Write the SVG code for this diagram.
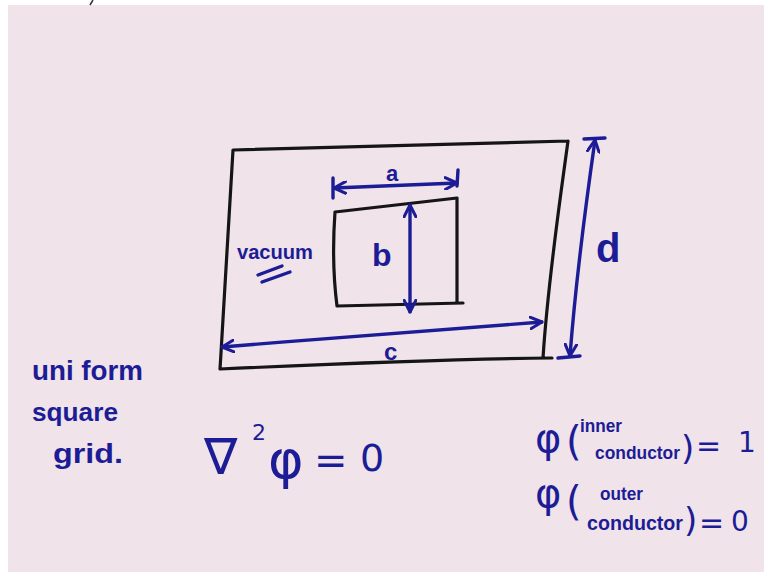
<svg xmlns="http://www.w3.org/2000/svg" width="764" height="577" viewBox="0 0 764 577">
<style>
.blk{fill:none;stroke:#151515;stroke-width:3.2;stroke-linecap:round;stroke-linejoin:round}
.ink{fill:none;stroke:#1c1c96;stroke-width:3.4;stroke-linecap:round;stroke-linejoin:round}
.hw{fill:#1c1c96;font-family:"Liberation Sans",Arial,sans-serif;font-weight:bold}
.mt{fill:#1c1c96;font-family:"DejaVu Sans",sans-serif}
</style>
<defs>
<marker id="ah" viewBox="0 0 12 12" refX="11" refY="6" markerWidth="14" markerHeight="14" markerUnits="userSpaceOnUse" orient="auto-start-reverse">
<path d="M1,1 L11,6 L1,11" fill="none" stroke="#1c1c96" stroke-width="2.6" stroke-linecap="round" stroke-linejoin="round"/>
</marker>
</defs>
<rect x="0" y="0" width="764" height="577" fill="#ffffff"/>
<rect x="8" y="5" width="756" height="567" fill="#f0e3e9"/>
<path d="M93,0 L90,5" stroke="#333" stroke-width="1.5" fill="none"/>

<g id="outer-conductor">
<path class="blk" d="M233,150 L568,141 M568,141 C560,200 548,280 543,358 M220,369 C225,290 229,210 233,150 M220,369 C330,364 450,359 552,358"/>
</g>
<g id="inner-conductor">
<path class="blk" d="M335,212 L457,198 L457,303 M335,212 C333,240 333,275 337,306 L463,303"/>
</g>

<g id="connectors">
<g id="dim-a">
<path class="ink" d="M334,188 L457,183" marker-start="url(#ah)" marker-end="url(#ah)"/>
<path class="ink" d="M333,178 L333,198 M458,170 L457,186"/>
</g>
<g id="dim-b">
<path class="ink" d="M410,205 L410,312" marker-start="url(#ah)" marker-end="url(#ah)"/>
</g>
<g id="dim-c">
<path class="ink" d="M222,347 C330,338 440,330 542,322" marker-start="url(#ah)" marker-end="url(#ah)"/>
</g>
<g id="dim-d">
<path class="ink" d="M595,140 C585,210 575,290 570,356" marker-start="url(#ah)" marker-end="url(#ah)"/>
<path class="ink" d="M584,139 L605,138 M558,358 L580,356"/>
</g>
</g>

<g id="labels">
<text class="hw" x="386" y="181" font-size="22">a</text>
<text class="hw" x="372" y="266" font-size="32">b</text>
<text class="hw" x="384" y="360" font-size="24">c</text>
<text class="hw" x="596" y="262" font-size="40">d</text>
<text class="hw" x="237" y="259" font-size="20" textLength="76" lengthAdjust="spacingAndGlyphs">vacuum</text>
<path class="ink" d="M258,275 L282,266 M262,282 L290,272" stroke-width="3"/>
</g>

<g id="notes-left">
<text class="hw" x="32" y="380" font-size="28" textLength="111" lengthAdjust="spacingAndGlyphs">uni form</text>
<text class="hw" x="32" y="421" font-size="26" textLength="86" lengthAdjust="spacingAndGlyphs">square</text>
<text class="hw" x="53" y="463" font-size="28" textLength="70" lengthAdjust="spacingAndGlyphs">grid.</text>
</g>

<g id="equation">
<text class="mt" x="204" y="474" font-size="50">∇</text>
<text class="mt" x="252" y="440" font-size="22">2</text>
<text class="mt" x="268" y="478" font-size="54">φ</text>
<text class="mt" x="314" y="474" font-size="40">=</text>
<text class="mt" x="360" y="471" font-size="38">0</text>
</g>

<g id="boundary-inner">
<text class="mt" x="535" y="452" font-size="40">φ</text>
<text class="mt" x="566" y="455" font-size="40">(</text>
<text class="hw" x="580" y="432" font-size="18" textLength="42" lengthAdjust="spacingAndGlyphs">inner</text>
<text class="hw" x="595" y="459" font-size="18" textLength="85" lengthAdjust="spacingAndGlyphs">conductor</text>
<text class="mt" x="681" y="460" font-size="34">)</text>
<text class="mt" x="696" y="456" font-size="30">=</text>
<text class="mt" x="738" y="452" font-size="28">1</text>
</g>

<g id="boundary-outer">
<text class="mt" x="535" y="507" font-size="40">φ</text>
<text class="mt" x="566" y="515" font-size="40">(</text>
<text class="hw" x="600" y="500" font-size="18" textLength="43" lengthAdjust="spacingAndGlyphs">outer</text>
<text class="hw" x="587" y="530" font-size="20" textLength="96" lengthAdjust="spacingAndGlyphs">conductor</text>
<text class="mt" x="684" y="532" font-size="34">)</text>
<text class="mt" x="699" y="533" font-size="30">=</text>
<text class="mt" x="731" y="531" font-size="28">0</text>
</g>
</svg>
